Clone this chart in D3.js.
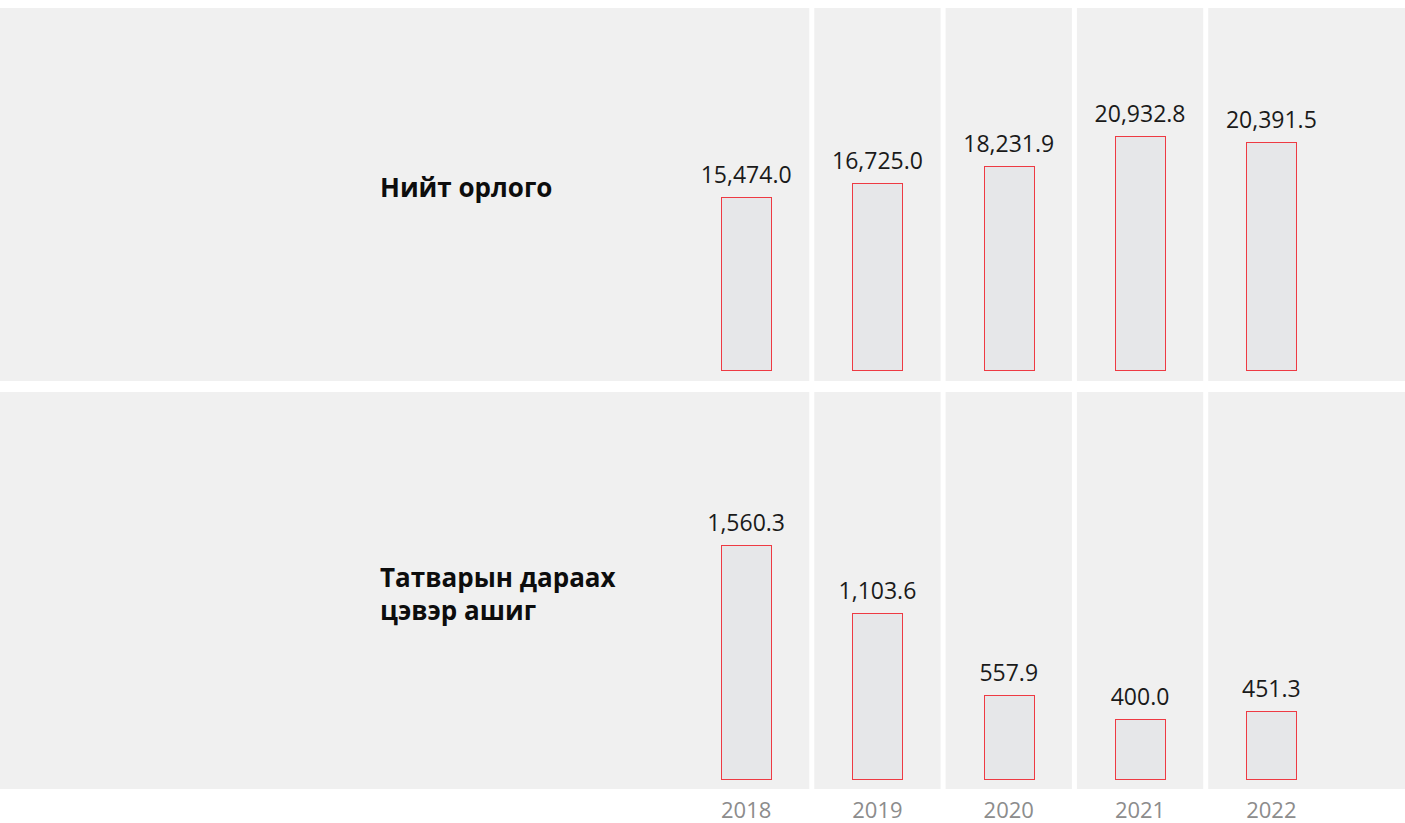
<!DOCTYPE html>
<html>
<head>
<meta charset="utf-8">
<script src="https://cdn.jsdelivr.net/npm/d3@7"></script>
<style>
  body { margin: 0; background: #fff; }
  svg { display: block; }
</style>
</head>
<body>
<div id="chart"></div>
<script>
const width = 1405;
const height = 823;

const years = ['2018', '2019', '2020', '2021', '2022'];
const revenue = [15474.0, 16725.0, 18231.9, 20932.8, 20391.5];
const profit = [1560.3, 1103.6, 557.9, 400.0, 451.3];
const rowTitles = [['Нийт орлого'], ['Татварын дараах', 'цэвэр ашиг']];

const fmt = d3.format(',.1f');

// panel geometry
const rows = [
  {top: 8, bottom: 381, base: 369.5, values: revenue, title: rowTitles[0], titleY: 197},
  {top: 392, bottom: 789, base: 778.5, values: profit, title: rowTitles[1], titleY: 587}
];
const barMaxH = 234;
const barW = 50;

const x = d3.scaleBand()
  .domain(years)
  .range([680.5, 1337]);

const svg = d3.select('#chart').append('svg')
  .attr('width', width)
  .attr('height', height);

rows.forEach(row => {
  const y = d3.scaleLinear()
    .domain([0, d3.max(row.values)])
    .range([row.base, row.base - barMaxH]);

  const g = svg.append('g');

  g.append('rect')
    .attr('x', 0)
    .attr('y', row.top)
    .attr('width', width)
    .attr('height', row.bottom - row.top)
    .attr('fill', '#f0f0f0');

  g.append('text')
    .attr('x', 380)
    .attr('y', row.titleY)
    .style('font-family', '"Open Sans", sans-serif')
    .style('font-weight', 700)
    .style('font-size', '26px')
    .attr('fill', '#0d0d0d')
    .selectAll('tspan')
    .data(row.title)
    .join('tspan')
      .attr('x', 380)
      .attr('dy', (d, i) => i ? 33 : 0)
      .text(d => d);

  g.selectAll('.bar')
    .data(row.values)
    .join('rect')
      .attr('class', 'bar')
      .attr('x', (d, i) => Math.round(x(years[i]) + x.bandwidth() / 2 - barW / 2) + 0.5)
      .attr('y', d => Math.round(y(d)) + 0.5)
      .attr('width', barW)
      .attr('height', d => Math.round(row.base) - Math.round(y(d)))
      .attr('fill', '#e6e7e9')
      .attr('stroke', '#ee3a43')
      .attr('stroke-width', 1);

  g.selectAll('.value')
    .data(row.values)
    .join('text')
      .attr('class', 'value')
      .attr('x', (d, i) => x(years[i]) + x.bandwidth() / 2)
      .attr('y', d => y(d) - 14)
      .attr('text-anchor', 'middle')
      .style('font-family', '"Open Sans", sans-serif')
      .style('font-weight', 400)
      .style('font-size', '23px')
      .attr('fill', '#1a1a1a')
      .text(fmt);
});

// white column separators
svg.selectAll('.sep')
  .data(years.slice(1))
  .join('rect')
    .attr('class', 'sep')
    .attr('x', d => x(d) - 2.5)
    .attr('y', 0)
    .attr('width', 5)
    .attr('height', rows[1].bottom)
    .attr('fill', '#fff');

svg.selectAll('.year')
  .data(years)
  .join('text')
    .attr('class', 'year')
    .attr('x', d => x(d) + x.bandwidth() / 2)
    .attr('y', 818)
    .attr('text-anchor', 'middle')
    .style('font-family', '"Open Sans", sans-serif')
    .style('font-weight', 400)
    .style('font-size', '22px')
    .attr('fill', '#8c8c8c')
    .text(d => d);
</script>
</body>
</html>
